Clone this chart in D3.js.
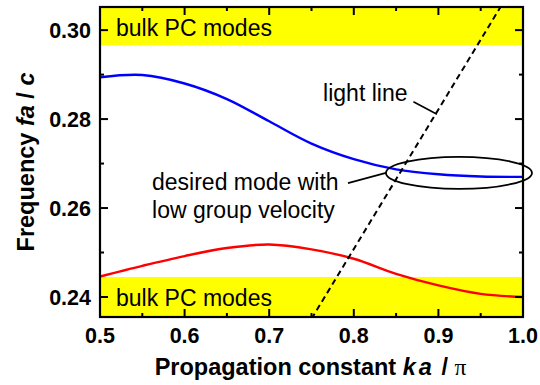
<!DOCTYPE html>
<html>
<head>
<meta charset="utf-8">
<script src="https://cdn.jsdelivr.net/npm/d3@7"></script>
<style>
  body { margin: 0; background: #fff; }
  svg { display: block; font-family: "Liberation Sans", Arial, sans-serif; }
</style>
</head>
<body>
<div id="chart"></div>
<script>
// propagation constant ka/pi, sampled every 0.05
const kValues = [0.50, 0.55, 0.60, 0.65, 0.70, 0.75, 0.80, 0.85, 0.90, 0.95, 1.00];
// upper guided mode (blue)
const upperMode = [0.2894, 0.2899, 0.2880, 0.2845, 0.2795, 0.2745, 0.2710, 0.2687, 0.2676, 0.2671, 0.2670];
// lower guided mode (red)
const lowerMode = [0.2446, 0.2470, 0.2492, 0.2510, 0.2518, 0.2507, 0.2486, 0.2452, 0.2426, 0.2407, 0.2400];
// light line end points
const lightK = [0.75, 0.975];
const lightF = [0.2351, 0.3057];
// bulk photonic crystal bands [low, high]
const bulkBands = [[0.2966, 0.3100], [0.2300, 0.2445]];

const xTicks = [0.5, 0.6, 0.7, 0.8, 0.9, 1.0];
const xMinor = [0.55, 0.65, 0.75, 0.85, 0.95];
const yTicks = [0.24, 0.26, 0.28, 0.30];
const yMinor = [0.25, 0.27, 0.29];

const svgWidth = 540;
const svgHeight = 385;
const margin = { top: 7, right: 17, bottom: 68, left: 100 };
const width = svgWidth - margin.left - margin.right;
const height = svgHeight - margin.top - margin.bottom;

const svg = d3.select("#chart").append("svg")
    .attr("width", svgWidth)
    .attr("height", svgHeight);

const g = svg.append("g")
    .attr("transform", `translate(${margin.left}, ${margin.top})`);

const x = d3.scaleLinear().domain([0.5, 1.0]).range([0, width]);
const y = d3.scaleLinear().domain([0.2355, 0.3052]).range([height, 0]);

g.append("clipPath").attr("id", "clip")
    .append("rect").attr("width", width).attr("height", height);

const plot = g.append("g").attr("clip-path", "url(#clip)");

// yellow bulk bands
plot.selectAll(".band")
    .data(bulkBands)
    .enter().append("rect")
    .attr("x", 0)
    .attr("width", width)
    .attr("y", d => y(d[1]))
    .attr("height", d => y(d[0]) - y(d[1]))
    .attr("fill", "#ffff00");

const line = d3.line()
    .x(d => x(d[0]))
    .y(d => y(d[1]))
    .curve(d3.curveCatmullRom);

plot.append("path")
    .datum(d3.zip(kValues, upperMode))
    .attr("d", line)
    .attr("fill", "none")
    .attr("stroke", "#0000ff")
    .attr("stroke-width", 2.4);

plot.append("path")
    .datum(d3.zip(kValues, lowerMode))
    .attr("d", line)
    .attr("fill", "none")
    .attr("stroke", "#ff0000")
    .attr("stroke-width", 2.4);

plot.append("path")
    .datum(d3.zip(lightK, lightF))
    .attr("d", d3.line().x(d => x(d[0])).y(d => y(d[1])))
    .attr("fill", "none")
    .attr("stroke", "#000")
    .attr("stroke-width", 2)
    .attr("stroke-dasharray", "6,4");

// labels
const labelFont = 23;
g.append("text").attr("x", 16).attr("y", y(0.30) + 6)
    .attr("font-size", labelFont).text("bulk PC modes");
g.append("text").attr("x", 16).attr("y", y(0.24) + 9)
    .attr("font-size", labelFont).text("bulk PC modes");

g.append("text").attr("x", x(0.7637)).attr("y", y(0.2840))
    .attr("font-size", labelFont).text("light line");
g.append("line")
    .attr("x1", x(0.8705)).attr("y1", y(0.2839))
    .attr("x2", x(0.8983)).attr("y2", y(0.2811))
    .attr("stroke", "#000").attr("stroke-width", 1.6);

g.append("text").attr("x", x(0.5615)).attr("y", y(0.2640))
    .attr("font-size", labelFont).text("desired mode with");
g.append("text").attr("x", x(0.5615)).attr("y", y(0.2577))
    .attr("font-size", labelFont).text("low group velocity");
g.append("line")
    .attr("x1", x(0.7931)).attr("y1", y(0.2656))
    .attr("x2", x(0.8380)).attr("y2", y(0.2679))
    .attr("stroke", "#000").attr("stroke-width", 1.6);

g.append("ellipse")
    .attr("cx", x(0.9243)).attr("cy", y(0.2679))
    .attr("rx", x(0.9243 + 0.0863) - x(0.9243))
    .attr("ry", y(0.2679) - y(0.2679 + 0.0036))
    .attr("fill", "none")
    .attr("stroke", "#000")
    .attr("stroke-width", 1.8);

// frame and ticks
g.append("rect").attr("width", width).attr("height", height)
    .attr("fill", "none").attr("stroke", "#000").attr("stroke-width", 2.2);

const tickStyle = sel => sel.attr("stroke", "#000").attr("stroke-width", 2);

function xTickMarks(vals, len) {
    g.selectAll(null).data(vals).enter().append("line")
        .attr("x1", d => x(d)).attr("x2", d => x(d))
        .attr("y1", height).attr("y2", height - len).call(tickStyle);
    g.selectAll(null).data(vals).enter().append("line")
        .attr("x1", d => x(d)).attr("x2", d => x(d))
        .attr("y1", 0).attr("y2", len).call(tickStyle);
}
function yTickMarks(vals, len) {
    g.selectAll(null).data(vals).enter().append("line")
        .attr("y1", d => y(d)).attr("y2", d => y(d))
        .attr("x1", 0).attr("x2", len).call(tickStyle);
    g.selectAll(null).data(vals).enter().append("line")
        .attr("y1", d => y(d)).attr("y2", d => y(d))
        .attr("x1", width).attr("x2", width - len).call(tickStyle);
}
xTickMarks(xTicks, 8);
xTickMarks(xMinor, 4);
yTickMarks(yTicks, 8);
yTickMarks(yMinor, 4);

const tickFont = 21.5;
g.selectAll(".xlab").data(xTicks).enter().append("text")
    .attr("x", d => x(d)).attr("y", height + 26)
    .attr("text-anchor", "middle")
    .attr("font-size", tickFont).attr("font-weight", "bold")
    .text(d => d.toFixed(1));

g.selectAll(".ylab").data(yTicks).enter().append("text")
    .attr("x", -9).attr("y", d => y(d) + 8)
    .attr("text-anchor", "end")
    .attr("font-size", tickFont).attr("font-weight", "bold")
    .text(d => d.toFixed(2));

// axis titles
const xTitle = svg.append("text")
    .attr("x", margin.left + width / 2 - 1).attr("y", 375)
    .attr("text-anchor", "middle")
    .attr("font-size", 23.5).attr("font-weight", "bold");
xTitle.append("tspan").text("Propagation constant ");
xTitle.append("tspan").attr("font-style", "italic").attr("letter-spacing", 3).text("ka");
xTitle.append("tspan").text(" / ");
xTitle.append("tspan").attr("font-family", "Liberation Serif").attr("font-weight", "normal").text("π");

const yTitle = svg.append("text")
    .attr("transform", "translate(34, 162) rotate(-90)")
    .attr("text-anchor", "middle")
    .attr("font-size", 23.5).attr("font-weight", "bold");
yTitle.append("tspan").text("Frequency ");
yTitle.append("tspan").attr("font-style", "italic").text("fa");
yTitle.append("tspan").text(" / ");
yTitle.append("tspan").attr("font-style", "italic").text("c");
</script>
</body>
</html>
